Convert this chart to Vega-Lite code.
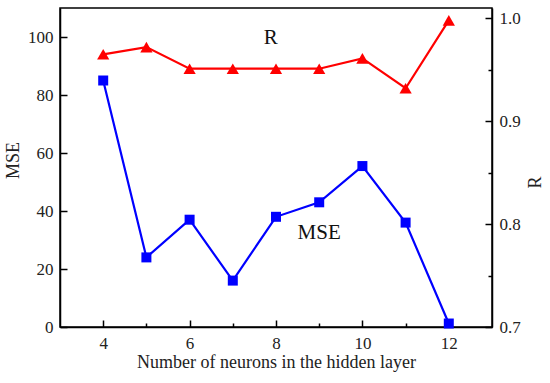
{
  "$schema": "https://vega.github.io/schema/vega-lite/v6.json",
  "autosize": {"type": "none"},
  "width": 432,
  "height": 319,
  "padding": {"left": 60, "top": 8, "right": 58, "bottom": 56},
  "background": "white",
  "config": {
    "view": {"stroke": "black", "strokeWidth": 1.5},
    "font": "Liberation Serif",
    "axis": {
      "domainColor": "black",
      "domainWidth": 1.5,
      "grid": false,
      "labelFont": "Liberation Serif",
      "labelFontSize": 17,
      "labelColor": "#222",
      "titleFont": "Liberation Serif",
      "titleFontSize": 18,
      "titleFontWeight": "normal",
      "titleColor": "#222"
    }
  },
  "datasets": {
    "main": [
      {"n": 4, "MSE": 85, "R": 0.965},
      {"n": 5, "MSE": 24, "R": 0.972},
      {"n": 6, "MSE": 37, "R": 0.951},
      {"n": 7, "MSE": 16, "R": 0.951},
      {"n": 8, "MSE": 38, "R": 0.951},
      {"n": 9, "MSE": 43, "R": 0.951},
      {"n": 10, "MSE": 55.5, "R": 0.961},
      {"n": 11, "MSE": 36, "R": 0.932},
      {"n": 12, "MSE": 1.2, "R": 0.998}
    ]
  },
  "encoding": {
    "x": {
      "field": "n",
      "type": "quantitative",
      "scale": {"domain": [3, 13], "nice": false, "zero": false},
      "axis": {
        "title": "Number of neurons in the hidden layer",
        "values": [4, 5, 6, 7, 8, 9, 10, 11, 12],
        "labelExpr": "datum.value % 2 === 0 ? datum.label : ''",
        "ticks": true,
        "tickColor": "black",
        "tickWidth": 1.5,
        "tickSize": {"condition": {"test": "datum.value % 2 === 1", "value": -4}, "value": -7},
        "labelPadding": 15,
        "titlePadding": 2,
        "labelFlush": false
      }
    }
  },
  "layer": [
    {
      "layer": [
        {
          "data": {"name": "main"},
          "mark": {"type": "line", "color": "#0000FF", "strokeWidth": 2.2,
                   "point": {"shape": "square", "filled": true, "size": 100, "color": "#0000FF", "opacity": 1}},
          "encoding": {
            "y": {
              "field": "MSE",
              "type": "quantitative",
              "scale": {"domain": [0, 110], "nice": false},
              "axis": {
                "title": "MSE",
                "orient": "left",
                "titleX": -47,
                "titleY": 152,
                "titleAlign": "center",
                "titleBaseline": "middle",
                "titleAngle": -90,
                "values": [0, 10, 20, 30, 40, 50, 60, 70, 80, 90, 100],
                "labelExpr": "datum.value % 20 === 0 ? datum.label : ''",
                "ticks": true,
                "tickColor": "black",
                "tickWidth": 1.5,
                "tickSize": {"condition": {"test": "datum.value % 20 === 10", "value": -4}, "value": -7},
                "labelPadding": 14
              }
            }
          }
        },
        {
          "data": {"values": [{"n": 9, "MSE": 32.4, "label": "MSE"}]},
          "mark": {"type": "text", "fontSize": 21, "font": "Liberation Serif", "color": "#111", "align": "center", "baseline": "middle"},
          "encoding": {
            "y": {"field": "MSE", "type": "quantitative"},
            "text": {"field": "label"}
          }
        }
      ]
    },
    {
      "layer": [
        {
          "data": {"name": "main"},
          "mark": {"type": "line", "color": "#FF0000", "strokeWidth": 2.2,
                   "point": {"shape": "triangle-up", "filled": true, "size": 150, "color": "#FF0000", "opacity": 1}},
          "encoding": {
            "y": {
              "field": "R",
              "type": "quantitative",
              "scale": {"domain": [0.7, 1.01], "nice": false, "zero": false},
              "axis": {
                "title": "R",
                "orient": "right",
                "titleX": 43,
                "titleY": 174,
                "titleAlign": "center",
                "titleBaseline": "middle",
                "titleAngle": -90,
                "values": [0.7, 0.75, 0.8, 0.85, 0.9, 0.95, 1.0],
                "format": ".1f",
                "labelExpr": "round(datum.value * 100) % 10 === 0 ? datum.label : ''",
                "ticks": true,
                "tickColor": "black",
                "tickWidth": 1.5,
                "tickSize": {"condition": {"test": "round(datum.value * 100) % 10 !== 0", "value": -4}, "value": -7},
                "labelPadding": 14
              }
            }
          }
        },
        {
          "data": {"values": [{"n": 7.88, "R": 0.981, "label": "R"}]},
          "mark": {"type": "text", "fontSize": 21, "font": "Liberation Serif", "color": "#111", "align": "center", "baseline": "middle"},
          "encoding": {
            "y": {"field": "R", "type": "quantitative"},
            "text": {"field": "label"}
          }
        }
      ]
    }
  ],
  "resolve": {"scale": {"y": "independent"}}
}
